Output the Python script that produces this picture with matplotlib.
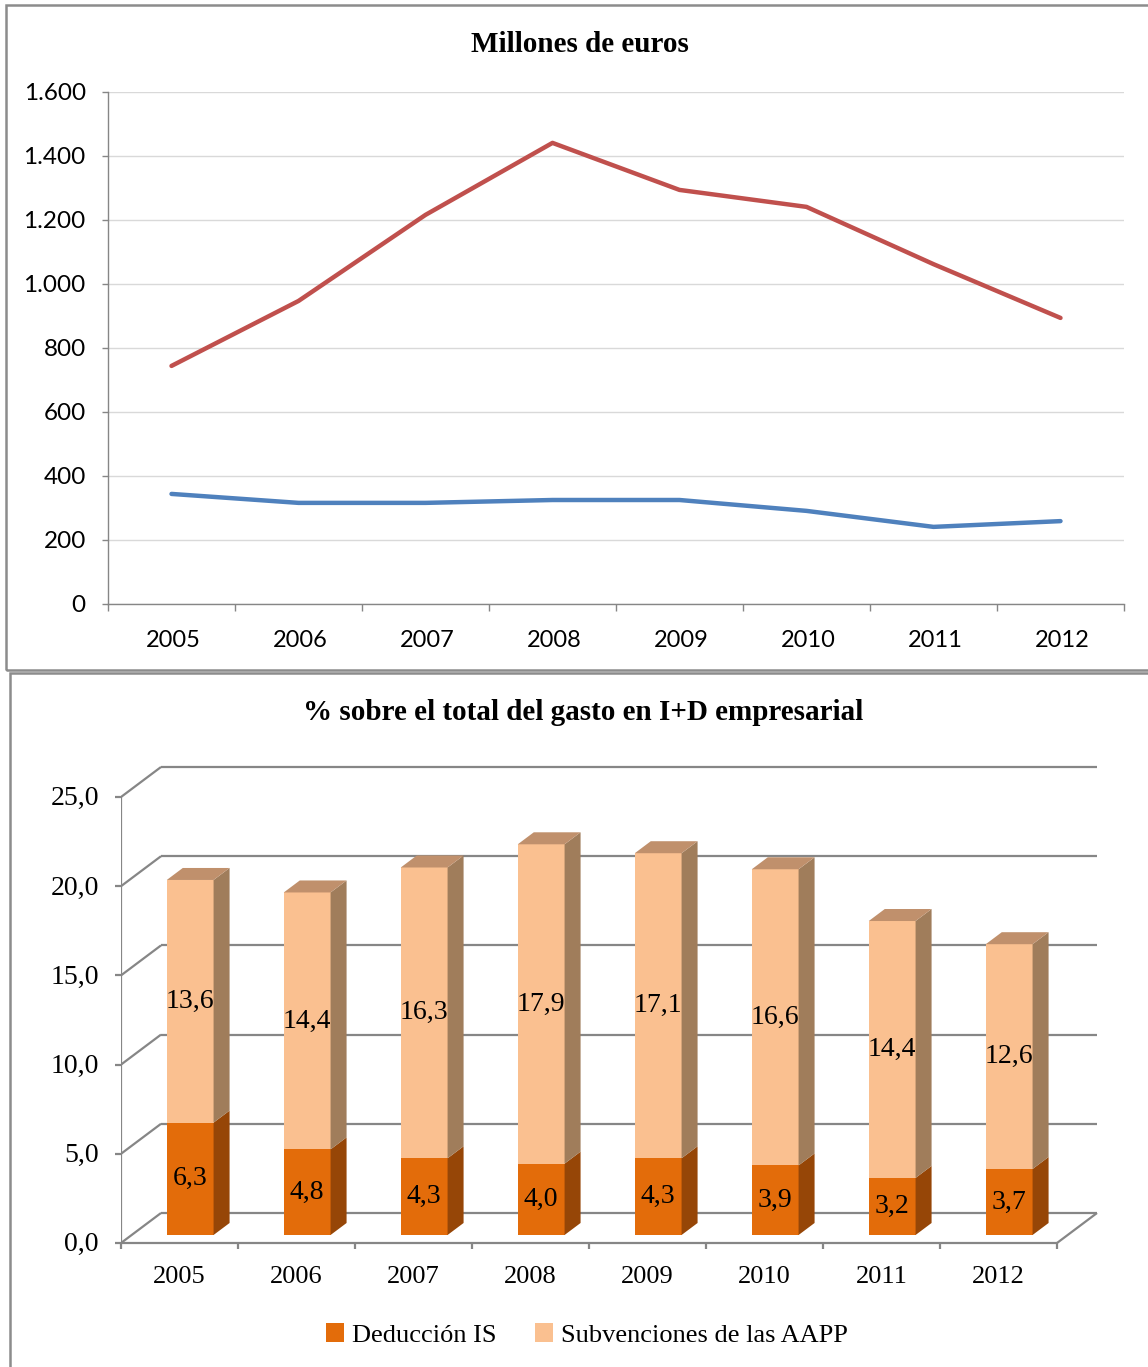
import matplotlib
matplotlib.use("Agg")
import matplotlib.pyplot as plt
from matplotlib.patches import Rectangle, Polygon, Patch
import numpy as np

# ---------------- data ----------------
years = ["2005", "2006", "2007", "2008", "2009", "2010", "2011", "2012"]
# Millones de euros
subvenciones_meur = [744, 947, 1216, 1441, 1294, 1241, 1062, 894]
deduccion_meur = [344, 316, 316, 325, 325, 291, 241, 259]
# % sobre el total del gasto en I+D empresarial
deduccion_pct = [6.3, 4.8, 4.3, 4.0, 4.3, 3.9, 3.2, 3.7]
subvenciones_pct = [13.6, 14.4, 16.3, 17.9, 17.1, 16.6, 14.4, 12.6]
title_top = "Millones de euros"
title_bottom = "% sobre el total del gasto en I+D empresarial"
legend_labels = ["Deducción IS", "Subvenciones de las AAPP"]

W, H = 1148, 1367
fig = plt.figure(figsize=(W / 100, H / 100), dpi=100)


def fx(px):
    return px / W


def fy(py):
    return 1 - py / H


SANS = "Lato"
SERIF = "Liberation Serif"
GRAY = "#868686"

# panel borders
fig.add_artist(Rectangle((fx(6), fy(670)), fx(1160) - fx(6), fy(5) - fy(670),
                         transform=fig.transFigure, fill=False, edgecolor="#8c8c8c", lw=1.8))
fig.add_artist(Rectangle((fx(10), fy(1380)), fx(1160) - fx(10), fy(673) - fy(1380),
                         transform=fig.transFigure, fill=False, edgecolor="#8c8c8c", lw=1.8))

# ---------------- top chart ----------------
ax1 = fig.add_axes([fx(108), fy(604), (1124 - 108) / W, (604 - 92) / H])
x = np.arange(len(years))
ax1.plot(x, subvenciones_meur, color="#C0504D", lw=3.2, solid_capstyle="round", zorder=3)
ax1.plot(x, deduccion_meur, color="#4F81BD", lw=3.2, solid_capstyle="round", zorder=3)
ax1.set_xlim(-0.5, len(years) - 0.5)
ax1.set_ylim(0, 1600)
yt = np.arange(0, 1601, 200)
ax1.set_yticks(yt)
ax1.set_yticklabels([f"{v:,}".replace(",", ".") for v in yt], fontfamily=SANS, fontsize=17.5)
ax1.set_xticks(x + 0.015)
ax1.set_xticklabels(years, fontfamily=SANS, fontsize=17)
ax1.set_xticks(np.arange(-0.5, len(years)), minor=True)
ax1.tick_params(axis="x", which="major", length=0, pad=19)
ax1.tick_params(axis="x", which="minor", length=5, color=GRAY, width=1)
ax1.tick_params(axis="y", length=4, color=GRAY, width=1, pad=12)
ax1.grid(axis="y", color="#d9d9d9", lw=1.0)
ax1.set_axisbelow(True)
for s in ["top", "right"]:
    ax1.spines[s].set_visible(False)
for s in ["left", "bottom"]:
    ax1.spines[s].set_color(GRAY)
    ax1.spines[s].set_linewidth(1.0)
fig.text(fx(580), fy(44), title_top, ha="center", va="center",
         fontfamily=SERIF, fontweight="bold", fontsize=21)

# ---------------- bottom chart (3D-style stacked bars) ----------------
PXX = 117.0    # px per category
PXY = 17.84    # px per unit
ax2 = fig.add_axes([fx(121), fy(1247), (1100 - 121) / W, (1247 - 765) / H])
ax2.set_xlim(-0.5, -0.5 + (1100 - 121) / PXX)
ax2.set_ylim(-4 / PXY, (1243 - 765) / PXY)
ax2.axis("off")

Dx, Dy = 40 / PXX, 30 / PXY        # depth offset (front -> back wall)
f0, f1 = 0.267, 0.667              # bar front / back fraction of depth
bw = 0.40
n = len(years)
gl = dict(color=GRAY, lw=1.6, solid_capstyle="butt", zorder=1)

yvals = np.arange(0, 26, 5)
for v in yvals:
    ax2.plot([-0.5, -0.5 + Dx], [v, v + Dy], **gl)
    ax2.plot([-0.5 + Dx, n - 0.5 + Dx], [v + Dy, v + Dy], **gl)
    ax2.plot([-0.5 - 0.05, -0.5], [v, v], clip_on=False, **gl)
    ax2.text(-0.5 - 0.19, v - 0.1, f"{v:.1f}".replace(".", ","), ha="right", va="center",
             fontfamily=SERIF, fontsize=20)
# front y axis, floor
ax2.plot([-0.5, -0.5], [0, 25], **gl)
ax2.plot([-0.5, n - 0.5], [0, 0], clip_on=False, **gl)
ax2.plot([n - 0.5, n - 0.5 + Dx], [0, Dy], **gl)
for k in range(n + 1):
    ax2.plot([-0.5 + k, -0.5 + k], [0, -6 / PXY], clip_on=False, **gl)
for i, yr in enumerate(years):
    ax2.text(i, -34 / PXY, yr, ha="center", va="center", fontfamily=SERIF, fontsize=19)

c_front = ["#E36C0A", "#FAC090"]
c_side = ["#964607", "#A07D5B"]
c_top = ["#B05A10", "#C0906C"]
xs = x + f0 * Dx
base = f0 * Dy
ddx, ddy = (f1 - f0) * Dx, (f1 - f0) * Dy
ded = np.array(deduccion_pct)
sub = np.array(subvenciones_pct)
segments = [(ded, np.zeros(n)), (sub, ded)]
for s, (vals, bott) in enumerate(segments):
    ax2.bar(xs, vals, width=bw, bottom=base + bott, color=c_front[s], lw=0, zorder=3)
    for i in range(n):
        xr = xs[i] + bw / 2
        b = base + bott[i]
        t = base + bott[i] + vals[i]
        ax2.add_patch(Polygon([(xr, b), (xr + ddx, b + ddy), (xr + ddx, t + ddy), (xr, t)],
                              closed=True, facecolor=c_side[s], lw=0, zorder=3))
        ax2.text(xs[i], (b + t) / 2, f"{vals[i]:.1f}".replace(".", ","), ha="center",
                 va="center", fontfamily=SERIF, fontsize=20, zorder=5)
tops = base + ded + sub
for i in range(n):
    xl, xr = xs[i] - bw / 2, xs[i] + bw / 2
    ax2.add_patch(Polygon([(xl, tops[i]), (xr, tops[i]), (xr + ddx, tops[i] + ddy),
                           (xl + ddx, tops[i] + ddy)], closed=True,
                          facecolor=c_top[1], lw=0, zorder=3))

fig.text(fx(583), fy(712), title_bottom, ha="center", va="center",
         fontfamily=SERIF, fontweight="bold", fontsize=21)

handles = [Patch(facecolor=c_front[0]), Patch(facecolor=c_front[1])]
fig.legend(handles, legend_labels, loc="center", bbox_to_anchor=(fx(587), fy(1335)),
           ncol=2, frameon=False, handlelength=0.7, handleheight=0.7,
           handletextpad=0.3, columnspacing=1.45,
           prop=dict(family=SERIF, size=19))

fig.savefig("out.png", dpi=100)
